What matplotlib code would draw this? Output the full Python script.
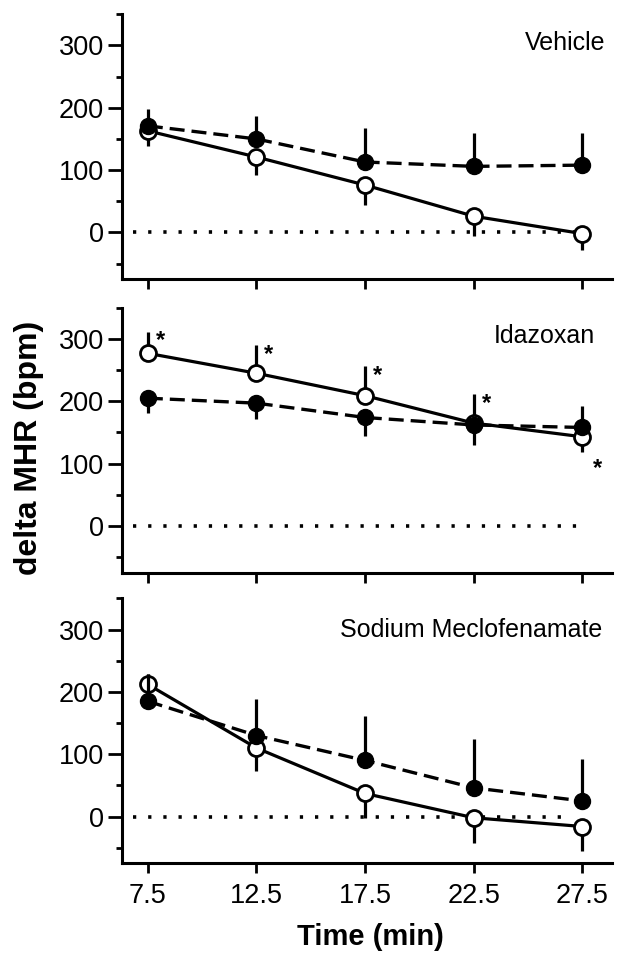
"""
delta MHR over time: three treatment panels (Vehicle, Idazoxan, Sodium Meclofenamate).
Open circles = solid line, filled circles = dashed line, one-sided SEM bars.
"""

import numpy as np
import matplotlib
matplotlib.use('Agg')
import matplotlib.pyplot as plt
from matplotlib.ticker import MultipleLocator

plt.rcParams['font.family'] = ['Liberation Sans', 'DejaVu Sans']

# Time points (min)
time = [7.5, 12.5, 17.5, 22.5, 27.5]
panel_names = ['Vehicle', 'Idazoxan', 'Sodium Meclofenamate']

# Open circles (solid line)
open_mean = [
    [163, 121, 76, 26, -2],
    [277, 245, 209, 165, 143],
    [212, 110, 37, -2, -16],
]
open_err_lo = [
    [24, 29, 32, 32, 26],
    [0, 0, 0, 0, 24],
    [0, 37, 39, 40, 40],
]
open_err_hi = [
    [0, 0, 0, 0, 0],
    [35, 45, 48, 46, 0],
    [16, 0, 0, 0, 0],
]

# Filled circles (dashed line)
filled_mean = [
    [171, 150, 113, 106, 108],
    [205, 197, 174, 162, 158],
    [185, 130, 90, 46, 25],
]
filled_err_lo = [
    [0, 0, 0, 0, 0],
    [24, 25, 30, 32, 0],
    [0, 0, 0, 0, 0],
]
filled_err_hi = [
    [27, 37, 55, 53, 51],
    [0, 0, 0, 0, 34],
    [43, 59, 72, 79, 68],
]

# significance marks (Idazoxan panel only), on the open series
stars = [
    [False] * 5,
    [True, True, True, True, True],
    [False] * 5,
]

zero_line_end = [27.6, 27.6, 26.9]

fig = plt.figure(figsize=(6.18, 9.56), dpi=100)
bottoms = [0.708, 0.401, 0.097]
label_pos = [(0.986, 0.864), (0.965, 0.868), (0.98, 0.856)]

for i in range(3):
    ax = fig.add_axes([0.197, bottoms[i], 0.793, 0.277])
    ax.hlines(0, 6.8, zero_line_end[i], colors='black', linewidth=2.6,
              linestyles=[(0, (0.9, 3.3))], zorder=1)

    ax.errorbar(time, open_mean[i], yerr=[open_err_lo[i], open_err_hi[i]],
                fmt='o', linestyle='-', color='black', linewidth=2.3,
                elinewidth=2.3, capsize=0, markersize=11.5, markerfacecolor='white',
                markeredgecolor='black', markeredgewidth=2, zorder=3)
    ax.errorbar(time, filled_mean[i], yerr=[filled_err_lo[i], filled_err_hi[i]],
                fmt='o', linestyle=(0, (4.5, 2.1)), color='black', linewidth=2.4,
                elinewidth=2.3, capsize=0, markersize=11.5, markerfacecolor='black',
                markeredgecolor='black', zorder=4)

    for j, t in enumerate(time):
        if not stars[i][j]:
            continue
        if open_err_hi[i][j] > 0:
            ax.annotate('*', (t, open_mean[i][j] + open_err_hi[i][j]),
                        xytext=(9, -15), textcoords='offset points',
                        fontsize=17, fontweight='bold', ha='center', va='bottom')
        else:
            ax.annotate('*', (t, open_mean[i][j] - open_err_lo[i][j]),
                        xytext=(11, -20), textcoords='offset points',
                        fontsize=17, fontweight='bold', ha='center', va='bottom')

    ax.set_xlim(6.3, 28.85)
    ax.set_ylim(-75, 350)
    ax.set_xticks(time)
    ax.set_yticks([0, 100, 200, 300])
    ax.yaxis.set_minor_locator(MultipleLocator(50))
    ax.spines['top'].set_visible(False)
    ax.spines['right'].set_visible(False)
    ax.spines['left'].set_linewidth(2.2)
    ax.spines['bottom'].set_linewidth(2.2)
    ax.tick_params(axis='y', which='major', direction='out', length=10,
                   width=2, labelsize=19.5, pad=3)
    ax.tick_params(axis='y', which='minor', direction='out', length=4, width=2)
    ax.tick_params(axis='x', which='major', direction='out', length=7,
                   width=2, labelsize=19.5, pad=7)
    if i < 2:
        ax.tick_params(axis='x', labelbottom=False)
    else:
        ax.set_xticklabels([str(t) for t in time])

    ax.text(label_pos[i][0], label_pos[i][1], panel_names[i], transform=ax.transAxes,
            ha='right', va='baseline', fontsize=18)

fig.text(0.047, 0.531, 'delta MHR (bpm)', rotation=90, ha='center', va='center',
         fontsize=23, fontweight='bold')
fig.text(0.599, 0.012, 'Time (min)', ha='center', va='baseline', fontsize=21,
         fontweight='bold')

fig.savefig('out.png', dpi=100)
